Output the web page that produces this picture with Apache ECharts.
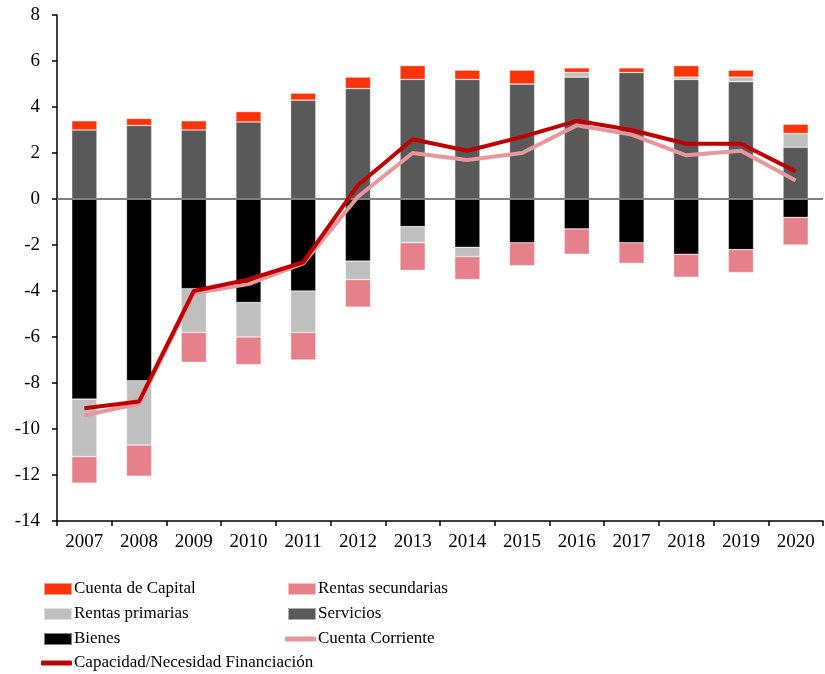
<!DOCTYPE html>
<html>
<head>
<meta charset="utf-8">
<script src="https://cdn.jsdelivr.net/npm/echarts@6/dist/echarts.min.js"></script>
<style>
  html, body { margin: 0; padding: 0; background: #fff; }
  #chart { width: 825px; height: 674px; }
</style>
</head>
<body>
<div id="chart"></div>
<script>
// años
const years = ['2007', '2008', '2009', '2010', '2011', '2012', '2013', '2014', '2015', '2016', '2017', '2018', '2019', '2020'];

// componentes (% PIB)
const bienes = [-8.7, -7.9, -3.9, -4.5, -4.0, -2.7, -1.2, -2.1, -1.9, -1.3, -1.9, -2.4, -2.2, -0.8];
const servicios = [3.0, 3.2, 3.0, 3.35, 4.3, 4.8, 5.2, 5.2, 5.0, 5.3, 5.5, 5.2, 5.1, 2.25];
const rentasPrimarias = [-2.5, -2.8, -1.9, -1.5, -1.8, -0.8, -0.7, -0.4, 0, 0.2, 0, 0.1, 0.2, 0.6];
const rentasSecundarias = [-1.15, -1.35, -1.3, -1.2, -1.2, -1.2, -1.2, -1.0, -1.0, -1.1, -0.9, -1.0, -1.0, -1.2];
const cuentaCapital = [0.4, 0.3, 0.4, 0.45, 0.3, 0.5, 0.6, 0.4, 0.6, 0.2, 0.2, 0.5, 0.3, 0.4];

// saldos
const cuentaCorriente = [-9.4, -8.9, -4.1, -3.7, -2.8, 0.1, 2.0, 1.7, 2.0, 3.2, 2.8, 1.9, 2.1, 0.8];
const capNecFin = [-9.1, -8.8, -4.0, -3.5, -2.75, 0.6, 2.6, 2.1, 2.7, 3.4, 3.0, 2.4, 2.4, 1.2];

const chart = echarts.init(document.getElementById('chart'));
const font = '"Liberation Serif", "Times New Roman", serif';

function barSerie(name, data, color) {
  return {
    name: name,
    type: 'bar',
    stack: 'total',
    barWidth: '46%',
    data: data,
    itemStyle: { color: color, borderColor: 'rgba(255,255,255,0.5)', borderWidth: 0.6 }
  };
}

// una leyenda por entrada, en dos columnas
function legendItem(name, left, centerY, isLine) {
  return {
    left: left,
    top: centerY - 10,
    padding: 0,
    itemWidth: isLine ? 31 : 28,
    itemHeight: isLine ? 5 : 12,
    icon: isLine ? 'roundRect' : 'rect',
    textStyle: { fontFamily: font, fontSize: 17, lineHeight: 20, color: '#000', padding: [0, 0, 0, -3] },
    data: [name]
  };
}

const option = {
  backgroundColor: '#fff',
  animation: false,
  textStyle: { fontFamily: font },
  grid: { left: 57, right: 2, top: 15, bottom: 153 },
  legend: [
    legendItem('Cuenta de Capital', 43, 589),
    legendItem('Rentas primarias', 43, 614),
    legendItem('Bienes', 43, 639),
    legendItem('Capacidad/Necesidad Financiación', 41, 663, true),
    legendItem('Rentas secundarias', 287, 589),
    legendItem('Servicios', 287, 614),
    legendItem('Cuenta Corriente', 285, 639, true)
  ],
  xAxis: {
    type: 'category',
    data: years,
    boundaryGap: true,
    axisLine: { onZero: false, lineStyle: { color: '#000', width: 1.5 } },
    axisTick: { show: true, length: 5, lineStyle: { color: '#000', width: 1.5 } },
    axisLabel: { color: '#000', fontSize: 19, fontFamily: font, margin: 12, interval: 0 }
  },
  yAxis: {
    type: 'value',
    min: -14,
    max: 8,
    interval: 2,
    splitLine: { show: false },
    axisLine: { show: true, lineStyle: { color: '#000', width: 1.5 } },
    axisTick: { show: true, length: 5, lineStyle: { color: '#000', width: 1.5 } },
    axisLabel: { color: '#000', fontSize: 19, fontFamily: font, margin: 17 }
  },
  series: [
    Object.assign(barSerie('Bienes', bienes, '#000000'), {
      markLine: {
        silent: true,
        symbol: 'none',
        label: { show: false },
        lineStyle: { color: '#7f7f7f', width: 2, type: 'solid' },
        data: [{ yAxis: 0 }]
      }
    }),
    barSerie('Servicios', servicios, '#595959'),
    barSerie('Rentas primarias', rentasPrimarias, '#bfbfbf'),
    barSerie('Rentas secundarias', rentasSecundarias, '#e6808b'),
    barSerie('Cuenta de Capital', cuentaCapital, '#fa3309'),
    {
      name: 'Cuenta Corriente',
      type: 'line',
      data: cuentaCorriente,
      symbol: 'none',
      z: 5,
      lineStyle: { color: '#e8979c', width: 4 },
      itemStyle: { color: '#e8979c' }
    },
    {
      name: 'Capacidad/Necesidad Financiación',
      type: 'line',
      data: capNecFin,
      symbol: 'none',
      z: 6,
      lineStyle: { color: '#c00000', width: 4 },
      itemStyle: { color: '#c00000' }
    }
  ]
};

chart.setOption(option);
</script>
</body>
</html>
